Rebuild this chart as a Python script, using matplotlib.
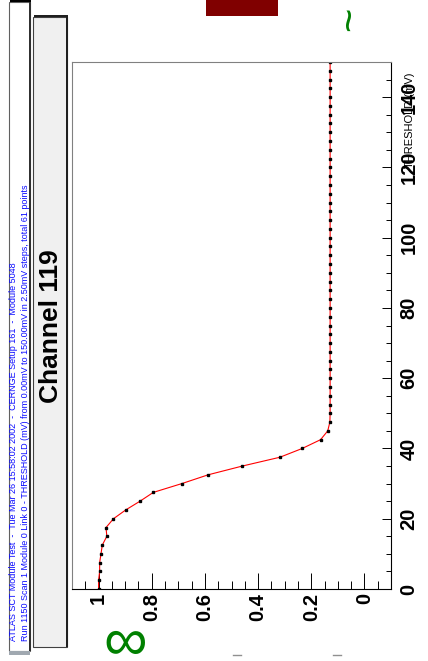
import matplotlib
matplotlib.use("Agg")
import matplotlib.pyplot as plt
from matplotlib.patches import Rectangle
from matplotlib.lines import Line2D
from matplotlib.ticker import MultipleLocator

plt.rcParams['font.family'] = ['Liberation Sans', 'DejaVu Sans']

# scan: threshold (mV) and occupancy
threshold = [0.0, 2.5, 5.0, 7.5, 10.0, 12.5, 15.0, 17.5, 20.0, 22.5,
             25.0, 27.5, 30.0, 32.5, 35.0, 37.5, 40.0, 42.5, 45.0, 47.5,
             50.0, 52.5, 55.0, 57.5, 60.0, 62.5, 65.0, 67.5, 70.0, 72.5,
             75.0, 77.5, 80.0, 82.5, 85.0, 87.5, 90.0, 92.5, 95.0, 97.5,
             100.0, 102.5, 105.0, 107.5, 110.0, 112.5, 115.0, 117.5, 120.0, 122.5,
             125.0, 127.5, 130.0, 132.5, 135.0, 137.5, 140.0, 142.5, 145.0, 147.5,
             150.0]
occupancy = [1.0, 1.0, 0.996, 0.996, 0.991, 0.986, 0.969, 0.972, 0.944, 0.898,
             0.844, 0.794, 0.687, 0.588, 0.459, 0.318, 0.234, 0.165, 0.138, 0.130,
             0.129, 0.129, 0.129, 0.129, 0.129, 0.129, 0.129, 0.129, 0.129, 0.129,
             0.129, 0.129, 0.129, 0.129, 0.129, 0.129, 0.129, 0.129, 0.129, 0.129,
             0.129, 0.129, 0.129, 0.129, 0.129, 0.129, 0.129, 0.129, 0.129, 0.129,
             0.129, 0.129, 0.129, 0.129, 0.129, 0.129, 0.129, 0.129, 0.129, 0.129,
             0.129]

occ_ticks = [1.0, 0.8, 0.6, 0.4, 0.2, 0.0]
occ_labels = ['1', '0.8', '0.6', '0.4', '0.2', '0']
thr_ticks = [0, 20, 40, 60, 80, 100, 120, 140]
thr_labels = ['0', '20', '40', '60', '80', '100', '120', '140']

info1 = "ATLAS SCT Module Test  -  Tue Mar 26 15:58:02 2002  -  CERNGE Setup 161  -  Module 5048"
info2 = "Run 1150 Scan 1 Module 0 Link 0 - THRESHOLD (mV) from 0.00mV to 150.00mV in 2.50mV steps, total 61 points"

W, H = 428, 661
fig = plt.figure(figsize=(W / 100, H / 100), dpi=100)


def fx(px):
    return px / W


def fy(py):
    return 1 - py / H


def box(x0, y0, x1, y1, **kw):
    fig.add_artist(Rectangle((fx(x0), fy(y1)), (x1 - x0) / W, (y1 - y0) / H,
                             transform=fig.transFigure, **kw))


# info pave (rotated canvas)
box(9, 2, 30, 651, facecolor='white', edgecolor='#606060', lw=0.8)
box(10, 0, 31, 2, facecolor='black', edgecolor='none')
box(29, 2, 31, 651, facecolor='#303030', edgecolor='none')
box(9, 651, 30, 655, facecolor='#a0a8b0', edgecolor='none')
fig.text(fx(14), fy(641), info1, rotation=90, ha='center', va='bottom',
         fontsize=6.5, color='#0a0aff')
fig.text(fx(25.5), fy(641), info2, rotation=90, ha='center', va='bottom',
         fontsize=6.5, color='#0a0aff')

# title pave
box(33, 17, 67, 647, facecolor='#f0f0f0', edgecolor='#404040', lw=0.8)
box(34, 15, 68, 17, facecolor='#202020', edgecolor='none')
box(66, 15, 68, 647, facecolor='#202020', edgecolor='none')
fig.text(fx(51), fy(326), 'Channel 119', rotation=90, ha='center', va='center',
         fontsize=19, fontweight='bold')

# stray bits at the canvas edges
box(206, 0, 278, 16, facecolor='#800000', edgecolor='none')
fig.text(fx(351), fy(19), '~', rotation=90, ha='center', va='center',
         fontsize=30, color='#008000')
fig.text(fx(125), fy(644), '\u221e', ha='center', va='center',
         fontsize=44, color='#008000')
for cx in (237, 337):
    fig.add_artist(Line2D([fx(cx - 4), fx(cx + 4)], [fy(655), fy(655)],
                          color='#909090', lw=1, transform=fig.transFigure))

# main frame
ax = fig.add_axes([fx(72), fy(589), (391 - 72) / W, (589 - 62) / H])
ax.plot(occupancy, threshold, color='red', lw=0.8, marker='s', ms=1.8,
        mfc='black', mec='black')
ax.set_xlim(1.1, -0.1)
ax.set_ylim(0, 150)

ax.yaxis.tick_right()
ax.set_xticks(occ_ticks, occ_labels, fontweight='bold', fontsize=14.5)
ax.set_yticks(thr_ticks, thr_labels, fontweight='bold', fontsize=14.5)
ax.xaxis.set_minor_locator(MultipleLocator(0.05))
ax.yaxis.set_minor_locator(MultipleLocator(5))
ax.tick_params(axis='both', which='both', direction='in', width=0.7)
ax.tick_params(axis='x', which='major', length=11.5, pad=3, labelrotation=90)
ax.tick_params(axis='x', which='minor', length=5.8)
ax.tick_params(axis='y', which='major', length=6.5, pad=6, labelrotation=90)
ax.tick_params(axis='y', which='minor', length=3.6)
for lab in ax.get_yticklabels():
    lab.set_va('center')

for side in ('top', 'left'):
    ax.spines[side].set_color('#808080')
for side in ('bottom', 'right'):
    ax.spines[side].set_color('black')

fig.text(fx(410), fy(73), 'THRESHOLD (mV)', rotation=90, ha='center', va='top',
         fontsize=8)

fig.savefig('out.png', dpi=100)
